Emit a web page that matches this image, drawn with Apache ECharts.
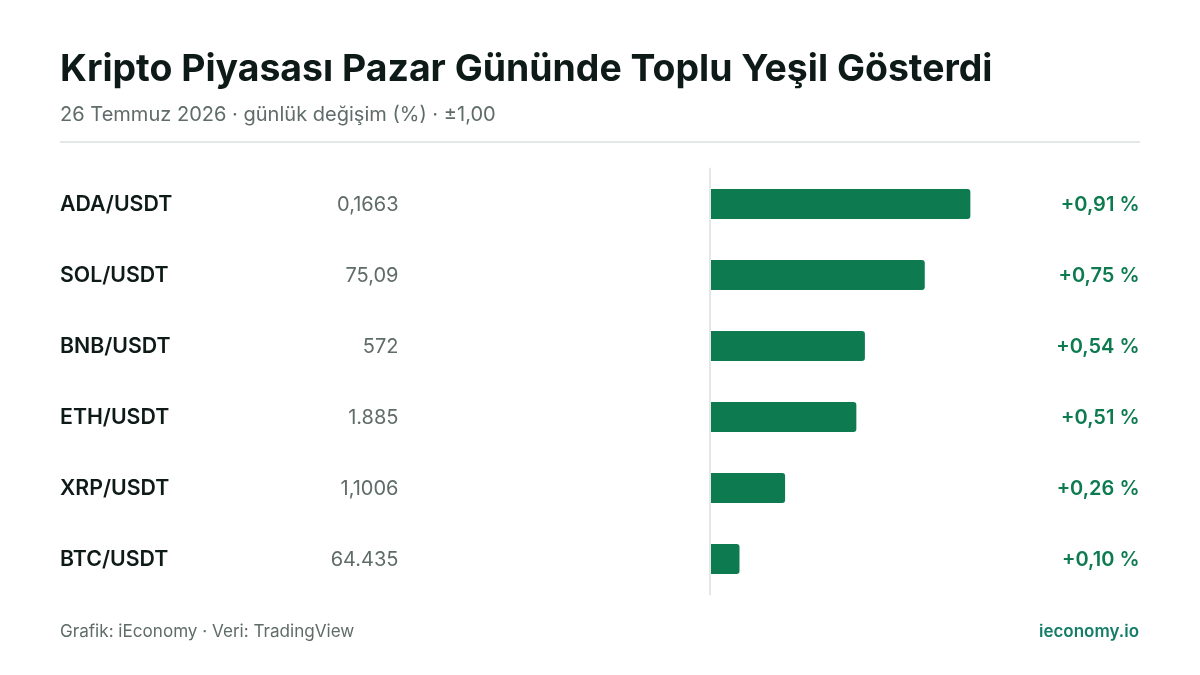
<!DOCTYPE html>
<html>
<head>
<meta charset="utf-8">
<style>
  html, body { margin: 0; padding: 0; background: #fff; }
  #chart { width: 1200px; height: 675px; }
</style>
<script src="https://cdn.jsdelivr.net/npm/echarts@6/dist/echarts.min.js"></script>
</head>
<body>
<div id="chart"></div>
<script>
const pairs = ['ADA/USDT', 'SOL/USDT', 'BNB/USDT', 'ETH/USDT', 'XRP/USDT', 'BTC/USDT'];
const prices = ['0,1663', '75,09', '572', '1.885', '1,1006', '64.435'];
const changes = [0.91, 0.75, 0.54, 0.51, 0.26, 0.10];
const changeLabels = ['+0,91 %', '+0,75 %', '+0,54 %', '+0,51 %', '+0,26 %', '+0,10 %'];

const font = 'Inter';
const green = '#0d7a50';
const teal = '#137d68';
const grey = '#5f6c69';
const dark = '#0e1a18';
const rule = '#e4e7e7';

const myChart = echarts.init(document.getElementById('chart'), null, { renderer: 'canvas' });

const option = {
    animation: false,
    backgroundColor: '#ffffff',
    title: [
        { text: 'Kripto Piyasası Pazar Gününde Toplu Yeşil Gösterdi', left: 60, top: 48,
          padding: 0, textStyle: { fontFamily: font, fontSize: 37.4, fontWeight: 700, color: dark, lineHeight: 44 } },
        { text: '26 Temmuz 2026 · günlük değişim (%) · ±1,00', left: 60, top: 103,
          padding: 0, textStyle: { fontFamily: font, fontSize: 20.05, fontWeight: 400, color: grey, lineHeight: 24 } },
        { text: 'Grafik: iEconomy · Veri: TradingView', left: 60, top: 622,
          padding: 0, textStyle: { fontFamily: font, fontSize: 17.1, fontWeight: 400, color: grey, lineHeight: 20 } },
        { text: 'ieconomy.io', right: 61, top: 622,
          padding: 0, textStyle: { fontFamily: font, fontSize: 17, fontWeight: 600, color: teal, lineHeight: 20 } }
    ],
    graphic: [
        { type: 'rect', shape: { x: 60, y: 141, width: 1080, height: 2 }, style: { fill: rule } }
    ],
    // second grid only carries the text columns, 1px lower than the bars
    grid: [
        { left: 711, top: 168.5, width: 285, height: 426 },
        { left: 711, top: 169.5, width: 285, height: 426 }
    ],
    xAxis: [
        { type: 'value', min: 0, max: 1, show: false, gridIndex: 0 },
        { type: 'value', min: 0, max: 1, show: false, gridIndex: 1 }
    ],
    yAxis: [
        {
            type: 'category', data: pairs, inverse: true, position: 'left', offset: 1, gridIndex: 0,
            axisTick: { show: false },
            axisLabel: { show: false },
            axisLine: { show: true, onZero: false, lineStyle: { color: rule, width: 2 } }
        },
        {
            type: 'category', data: pairs, inverse: true, position: 'left', gridIndex: 1,
            axisTick: { show: false }, axisLine: { show: false },
            axisLabel: { margin: 651, align: 'left', fontFamily: font, fontSize: 21.3, fontWeight: 600, color: dark }
        },
        {
            type: 'category', data: prices, inverse: true, position: 'left', offset: 0, gridIndex: 1,
            axisTick: { show: false }, axisLine: { show: false, onZero: false },
            axisLabel: { margin: 312.5, align: 'right', fontFamily: font, fontSize: 20, fontWeight: 400, color: grey }
        },
        {
            type: 'category', data: changeLabels, inverse: true, position: 'right', gridIndex: 1,
            axisTick: { show: false }, axisLine: { show: false },
            axisLabel: { margin: 143.5, align: 'right', fontFamily: font, fontSize: 20, fontWeight: 600, color: green }
        }
    ],
    series: [
        {
            type: 'bar', data: changes, barWidth: 30, xAxisIndex: 0, yAxisIndex: 0,
            itemStyle: { color: green, borderRadius: [0, 3, 3, 0] },
            silent: true
        }
    ]
};

myChart.setOption(option);
</script>
</body>
</html>
